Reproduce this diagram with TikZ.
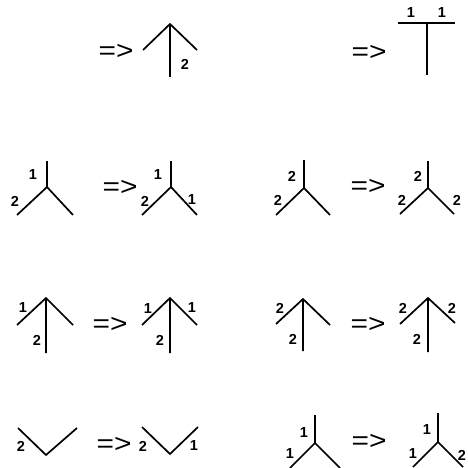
\documentclass[tikz,border=0pt]{standalone}
\usepackage{fontspec}
\setmainfont{Liberation Sans}
\begin{document}
\begin{tikzpicture}[x=1pt,y=-1pt,
  bond/.style={line width=1.7pt},
  lab/.style={font=\fontsize{14.5}{14.5}\selectfont\bfseries, inner sep=0pt},
  imp/.style={font=\fontsize{26}{26}\selectfont, inner sep=0pt}]
\useasboundingbox (0,0) rectangle (468,467);
\clip (0,0) rectangle (468,467);

% ---- row 1 ----
\node[imp] (i1) at (116,52) {\scalebox{1.15}[1]{=>}};
\draw[bond] (143,50) -- (170,24) -- (197,50);
\draw[bond] (170,24) -- (170,77);
\node[lab] (a1) at (185,64) {2};

\node[imp] (i2) at (369,53) {\scalebox{1.15}[1]{=>}};
\draw[bond] (398,23) -- (455,23);
\draw[bond] (427,23) -- (427,75);
\node[lab] (b1) at (411,13) {1};
\node[lab] (b2) at (442,13) {1};

% ---- row 2 ----
\draw[bond] (47,161) -- (47,187) (17,215) -- (47,187) -- (73,215);
\node[lab] (c1) at (33,175) {1};
\node[lab] (c2) at (15,201) {2};
\node[imp] (i3) at (120,188) {\scalebox{1.15}[1]{=>}};
\draw[bond] (171,161) -- (171,187) (142,215) -- (171,187) -- (197,215);
\node[lab] (d1) at (158,175) {1};
\node[lab] (d2) at (145,201) {2};
\node[lab] (d3) at (192,200) {1};

\draw[bond] (304,160) -- (304,188) (276,215) -- (304,188) -- (330,215);
\node[lab] (e1) at (292,176) {2};
\node[lab] (e2) at (278,200) {2};
\node[imp] (i4) at (368,187) {\scalebox{1.15}[1]{=>}};
\draw[bond] (428,161) -- (428,188) (400,214) -- (428,188) -- (454,214);
\node[lab] (f1) at (418,176) {2};
\node[lab] (f2) at (402,200) {2};
\node[lab] (f3) at (457,200) {2};

% ---- row 3 ----
\draw[bond] (17,325) -- (46,298) -- (73,325) (46,298) -- (46,353);
\node[lab] (g1) at (23,308) {1};
\node[lab] (g2) at (37,340) {2};
\node[imp] (i5) at (110,325) {\scalebox{1.15}[1]{=>}};
\draw[bond] (142,325) -- (170,298) -- (197,325) (170,298) -- (170,353);
\node[lab] (h1) at (148,309) {1};
\node[lab] (h2) at (192,308) {1};
\node[lab] (h3) at (160,340) {2};

\draw[bond] (276,324) -- (303,299) -- (330,325) (303,299) -- (303,351);
\node[lab] (j1) at (280,308) {2};
\node[lab] (j2) at (293,339) {2};
\node[imp] (i6) at (368,325) {\scalebox{1.15}[1]{=>}};
\draw[bond] (400,324) -- (428,298) -- (455,323) (428,298) -- (428,352);
\node[lab] (k1) at (403,308) {2};
\node[lab] (k2) at (452,308) {2};
\node[lab] (k3) at (417,339) {2};

% ---- row 4 ----
\draw[bond] (18,428) -- (46,455) -- (77,428);
\node[lab] (m1) at (21,446) {2};
\node[imp] (i7) at (114,445) {\scalebox{1.15}[1]{=>}};
\draw[bond] (142,427) -- (170,454) -- (198,427);
\node[lab] (n1) at (143,446) {2};
\node[lab] (n2) at (194,445) {1};

\draw[bond] (315,415) -- (315,443) (290,468) -- (315,443) -- (340,468);
\node[lab] (p1) at (304,432) {1};
\node[lab] (p2) at (290,453) {1};
\node[imp] (i8) at (369,442) {\scalebox{1.15}[1]{=>}};
\draw[bond] (438,413) -- (438,442) (413,467) -- (438,442) -- (463,467);
\node[lab] (q1) at (427,430) {1};
\node[lab] (q2) at (413,453) {1};
\node[lab] (q3) at (462,455) {2};
\end{tikzpicture}
\end{document}
